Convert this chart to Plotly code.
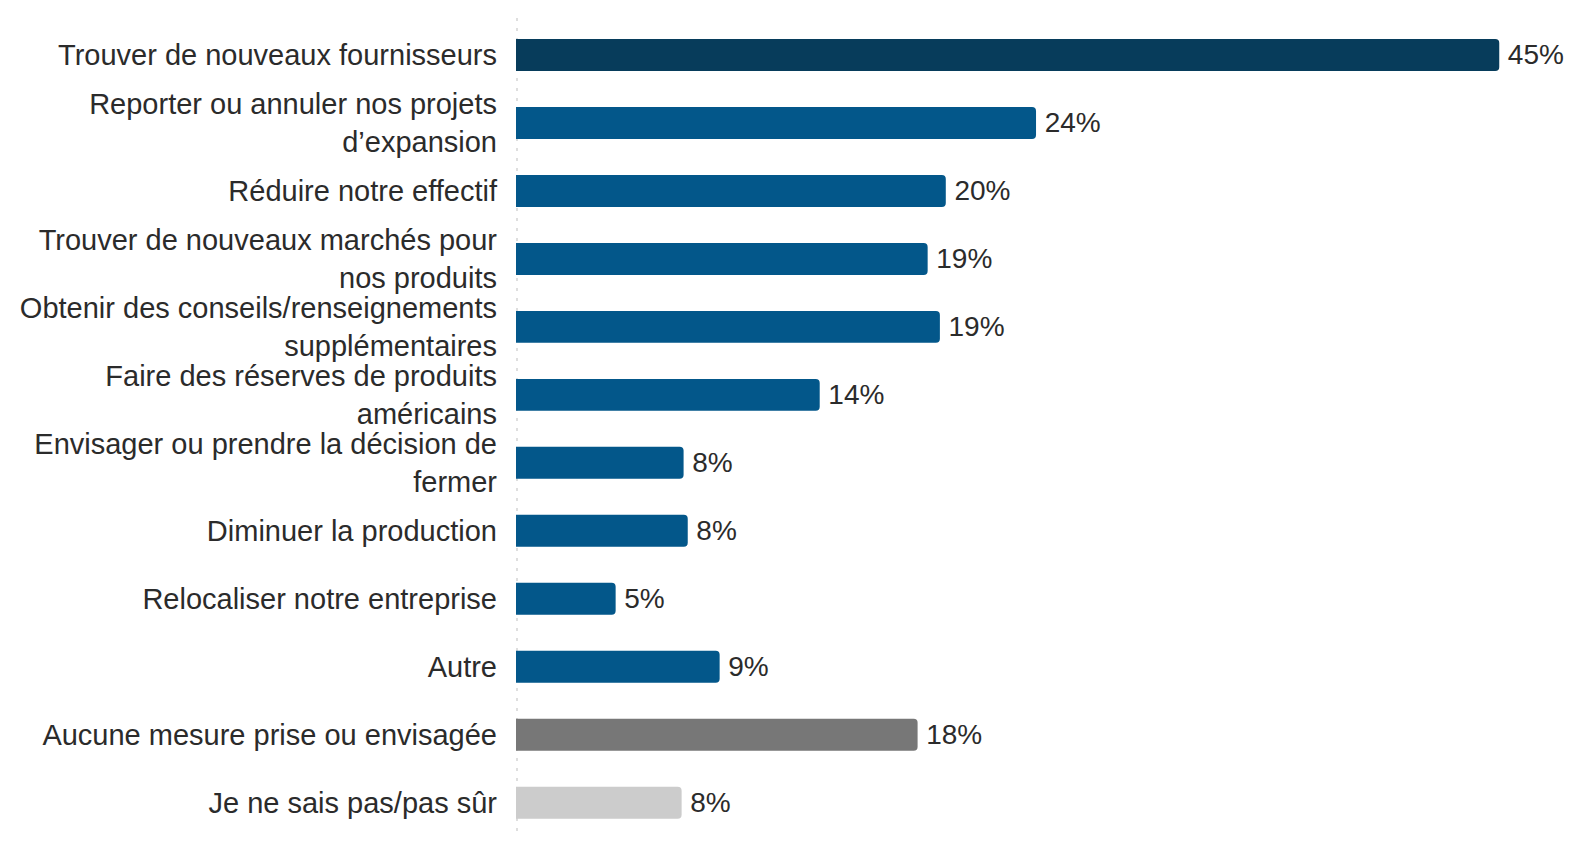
import plotly.graph_objects as go

categories = [
    "Trouver de nouveaux fournisseurs",
    "Reporter ou annuler nos projets<br>d’expansion",
    "Réduire notre effectif",
    "Trouver de nouveaux marchés pour<br>nos produits",
    "Obtenir des conseils/renseignements<br>supplémentaires",
    "Faire des réserves de produits<br>américains",
    "Envisager ou prendre la décision de<br>fermer",
    "Diminuer la production",
    "Relocaliser notre entreprise",
    "Autre",
    "Aucune mesure prise ou envisagée",
    "Je ne sais pas/pas sûr",
]
values = [45.0, 23.8, 19.67, 18.84, 19.4, 13.9, 7.67, 7.86, 4.56, 9.32, 18.38, 7.58]
value_labels = ["45%", "24%", "20%", "19%", "19%", "14%", "8%", "8%", "5%", "9%", "18%", "8%"]
bar_colors = ["#073c5b"] + ["#03578a"] * 9 + ["#777777", "#cccccc"]

fig = go.Figure(
    go.Bar(
        x=values,
        y=categories,
        orientation="h",
        marker=dict(color=bar_colors, line=dict(width=0)),
        width=0.47,
        text=["\u2009" + t for t in value_labels],
        textposition="outside",
        cliponaxis=False,
        textfont=dict(family="Liberation Sans, Arial, sans-serif", size=28, color="#2b2b2b"),
        hoverinfo="skip",
    )
)

fig.update_layout(
    template="none",
    width=1557,
    height=825,
    margin=dict(l=508, r=12, t=13, b=0, pad=0),
    plot_bgcolor="white",
    paper_bgcolor="white",
    showlegend=False,
    barcornerradius=4,
    font=dict(family="Liberation Sans, Arial, sans-serif", color="#2b2b2b"),
    xaxis=dict(range=[0, 47.46], visible=False, fixedrange=True, automargin=False),
    yaxis=dict(
        categoryorder="array",
        categoryarray=categories,
        range=[11.446, -0.5],
        showgrid=False,
        zeroline=False,
        showline=False,
        ticks="",
        automargin=False,
        ticklabelstandoff=18,
        tickfont=dict(family="Liberation Sans, Arial, sans-serif", size=29, color="#2b2b2b"),
        fixedrange=True,
    ),
    shapes=[
        dict(
            type="line",
            xref="x",
            yref="paper",
            x0=0,
            x1=0,
            y0=-0.01,
            y1=1.012,
            line=dict(color="#dedede", width=4, dash="3px,7px"),
            layer="below",
        )
    ],
)

fig.write_html("out.html")
